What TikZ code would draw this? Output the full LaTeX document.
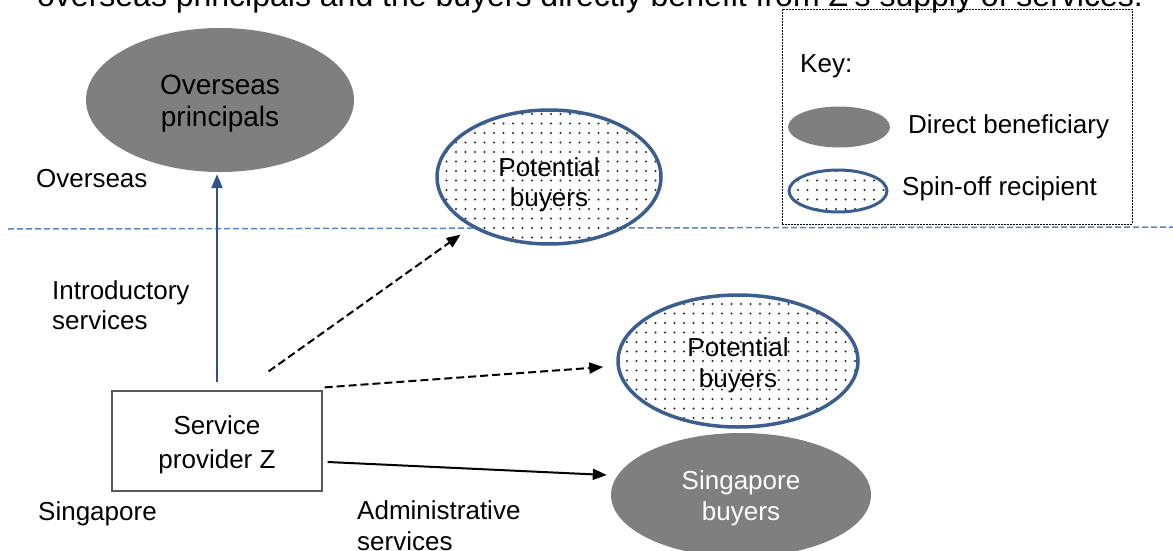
\documentclass[tikz,border=0pt]{standalone}
\usepackage{fontspec}
\setmainfont{Liberation Sans}
\usetikzlibrary{shapes.geometric,arrows.meta,patterns.meta}
\definecolor{dgray}{HTML}{7F7F7F}
\definecolor{eblue}{HTML}{3A5F8F}
\definecolor{ablue}{HTML}{2F528F}
\definecolor{lblue}{HTML}{5585C5}
\begin{document}
\begin{tikzpicture}[x=1pt,y=-1pt,
  txt/.style={font=\fontsize{26}{31}\selectfont, inner sep=0pt, anchor=base west},
  inner/.style={align=center, inner sep=0pt, font=\fontsize{26}{31}\selectfont},
  direct/.style={ellipse, fill=dgray, draw=none, inner sep=0pt},
  spinoff/.style={ellipse, draw=eblue, line width=3.5pt, preaction={fill=white},
    pattern={Dots[distance=9.5pt,radius=1.15pt]}, pattern color=black!85,
    inner sep=0pt},
  arr/.style={line width=2pt, -{Triangle[length=14pt,width=11pt]}},
  darr/.style={arr, dash pattern=on 8pt off 4pt},
]
\useasboundingbox (0,0) rectangle (1173,551);

% cropped caption at the top
\node[font=\fontsize{32}{36}\selectfont, inner sep=0pt, anchor=base west] (cap) at (37,7)
  {overseas principals and the buyers directly benefit from Z’s supply of services.};

% separator
\draw[lblue, line width=1.5pt, dash pattern=on 6pt off 3pt] (8,229) -- (1173,227);

% key
\node[draw, line width=0.8pt, dash pattern=on 2pt off 1pt, minimum width=350pt,
  minimum height=215pt, anchor=north west, inner sep=0pt] (key) at (782,9) {};
\node[txt] (keyt) at (800,73) {Key:};
\node[direct, minimum width=102pt, minimum height=41pt] (kd) at (839,127) {};
\node[txt] (kdt) at (908,133) {Direct beneficiary};
\node[spinoff, minimum width=98pt, minimum height=42pt, line width=3pt] (ks) at (838,191) {};
\node[txt] (kst) at (902,195) {Spin-off recipient};

% main nodes
\node[direct, minimum width=268pt, minimum height=144pt,
  label={[inner, font=\fontsize{28}{32}\selectfont, yshift=-4pt]center:Overseas\\principals}] (OP) at (220,100) {};
\node[spinoff, minimum width=224pt, minimum height=134pt,
  label={[inner, font=\fontsize{26}{30}\selectfont, yshift=-8pt]center:Potential\\buyers}] (PB1) at (549,177) {};
\node[spinoff, minimum width=240pt, minimum height=132pt,
  label={[inner, font=\fontsize{26}{31}\selectfont, yshift=-4pt]center:Potential\\buyers}] (PB2) at (738,361) {};
\node[direct, minimum width=260pt, minimum height=124pt,
  label={[inner, text=white, yshift=-3pt]center:Singapore\\buyers}] (SB) at (741,495) {};
\node[draw=dgray!70!black, line width=1.2pt, minimum width=210pt, minimum height=100pt,
  inner sep=0pt,
  label={[inner, font=\fontsize{26}{34}\selectfont, yshift=-4pt]center:Service\\provider Z}] (Z) at (217,441) {};

% labels
\node[txt] (ov) at (36,187) {Overseas};
\node[txt] (in1) at (52,299) {Introductory};
\node[txt] (in2) at (52,329) {services};
\node[txt] (sg) at (38,520) {Singapore};
\node[txt] (ad1) at (357,519) {Administrative};
\node[txt] (ad2) at (357,550) {services};

% connectors
\draw[arr, ablue] ([yshift=8pt]Z.north) -- ([yshift=-2pt]Z.north |- OP.south);
\draw[darr] ([xshift=-54pt,yshift=19pt]Z.north east) -- ([xshift=-8pt,yshift=-9pt]PB1.south west);
\draw[darr] ([xshift=2pt,yshift=3pt]Z.north east) -- ([xshift=-13pt,yshift=-6pt]PB2.west);
\draw[arr] ([xshift=5pt,yshift=-21pt]Z.east) -- ([xshift=-4pt,yshift=20pt]SB.west);
\end{tikzpicture}
\end{document}
